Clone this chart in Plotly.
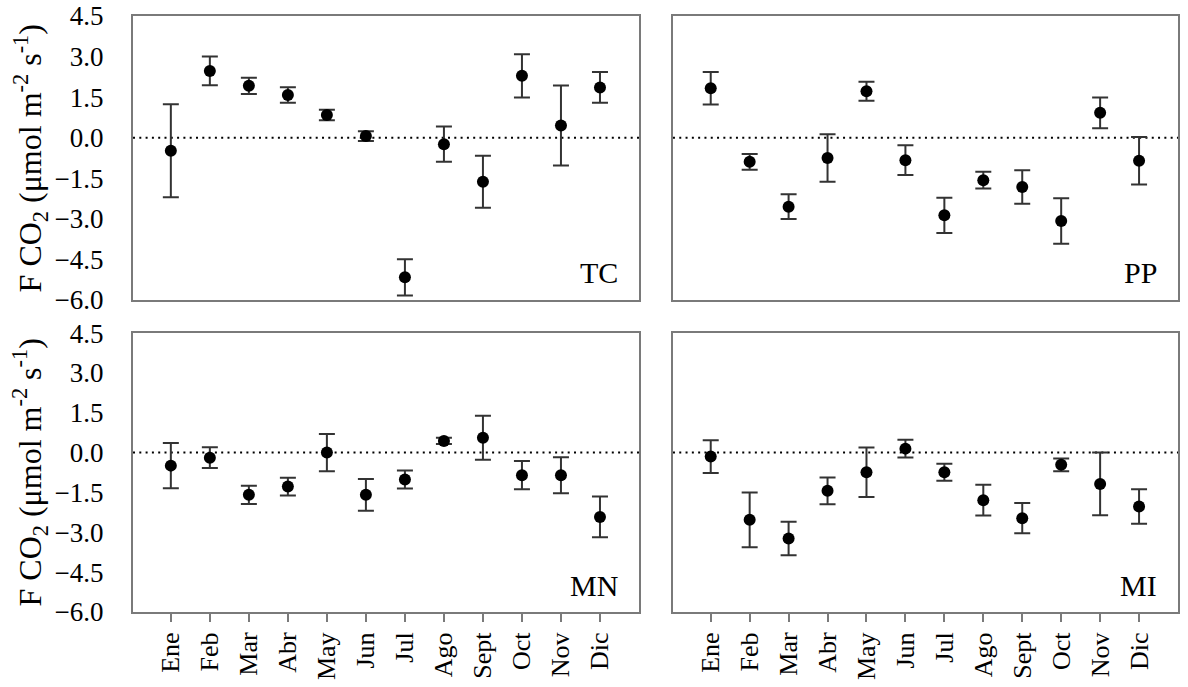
import plotly.graph_objects as go

months = ["Ene", "Feb", "Mar", "Abr", "May", "Jun", "Jul", "Ago", "Sept", "Oct", "Nov", "Dic"]

tc_vals = [-0.48, 2.47, 1.92, 1.58, 0.84, 0.06, -5.16, -0.24, -1.63, 2.29, 0.45, 1.86]
tc_err = [1.72, 0.53, 0.30, 0.29, 0.19, 0.18, 0.67, 0.65, 0.96, 0.80, 1.48, 0.57]

pp_vals = [1.83, -0.89, -2.55, -0.75, 1.72, -0.83, -2.87, -1.57, -1.82, -3.08, 0.92, -0.85]
pp_err = [0.60, 0.29, 0.46, 0.88, 0.35, 0.55, 0.65, 0.31, 0.62, 0.84, 0.57, 0.88]

mn_vals = [-0.49, -0.19, -1.59, -1.28, 0.0, -1.59, -1.01, 0.44, 0.56, -0.85, -0.85, -2.42]
mn_err = [0.85, 0.39, 0.34, 0.33, 0.70, 0.60, 0.34, 0.12, 0.83, 0.53, 0.68, 0.77]

mi_vals = [-0.15, -2.53, -3.23, -1.44, -0.74, 0.15, -0.74, -1.79, -2.47, -0.46, -1.18, -2.03]
mi_err = [0.62, 1.03, 0.63, 0.50, 0.93, 0.33, 0.32, 0.58, 0.57, 0.24, 1.18, 0.65]

y_ticks = [-6.0, -4.5, -3.0, -1.5, 0.0, 1.5, 3.0, 4.5]
panel_names = ["TC", "PP", "MN", "MI"]

FONT = "Liberation Serif"
FRAME = "#7a7a7a"

fig = go.Figure()

panels = [
    (tc_vals, tc_err, "x", "y"),
    (pp_vals, pp_err, "x2", "y2"),
    (mn_vals, mn_err, "x3", "y3"),
    (mi_vals, mi_err, "x4", "y4"),
]
for vals, err, xa, ya in panels:
    fig.add_trace(go.Scatter(
        x=months, y=vals, mode="markers", xaxis=xa, yaxis=ya,
        marker=dict(color="black", size=12),
        error_y=dict(type="data", array=err, visible=True,
                     color="#333333", thickness=2, width=8),
        showlegend=False, hoverinfo="x+y",
    ))

xdom_l = [0.0, 0.4842]
xdom_r = [0.5167, 1.0]
ydom_t = [0.5235, 1.0]
ydom_b = [0.0, 0.468]

def xaxis(dom, anchor, labels):
    d = dict(domain=dom, anchor=anchor, type="category", categoryorder="array",
             categoryarray=months, range=[-0.97, 12.0], showgrid=False, zeroline=False,
             showline=True, mirror=True, linecolor=FRAME, linewidth=2, automargin=False,
             tickfont=dict(family=FONT, size=26, color="black"))
    if labels:
        d.update(ticks="outside", ticklen=8, tickwidth=1.5, tickcolor=FRAME,
                 tickangle=-90, showticklabels=True)
    else:
        d.update(ticks="", showticklabels=False)
    return d

def yaxis(dom, anchor, labels):
    d = dict(domain=dom, anchor=anchor, range=[-6.0, 4.5], tickvals=y_ticks,
             tickformat=".1f", showgrid=False, zeroline=False, automargin=False,
             showline=True, mirror=True, linecolor=FRAME, linewidth=2, ticks="",
             tickfont=dict(family=FONT, size=27, color="black"),
             showticklabels=labels, ticklabelstandoff=22)
    return d

fig.update_layout(
    xaxis=xaxis(xdom_l, "y", False), yaxis=yaxis(ydom_t, "x", True),
    xaxis2=xaxis(xdom_r, "y2", False), yaxis2=yaxis(ydom_t, "x2", False),
    xaxis3=xaxis(xdom_l, "y3", True), yaxis3=yaxis(ydom_b, "x3", True),
    xaxis4=xaxis(xdom_r, "y4", True), yaxis4=yaxis(ydom_b, "x4", False),
)

axes_pairs = [("x", "y"), ("x2", "y2"), ("x3", "y3"), ("x4", "y4")]
for (xa, ya), name in zip(axes_pairs, panel_names):
    fig.add_shape(type="line", xref=f"{xa} domain", yref=ya, x0=0, x1=1, y0=0, y1=0,
                  line=dict(color="black", width=2, dash="2px,4.3px"), layer="below")
    fig.add_annotation(text=name, xref=f"{xa} domain", yref=f"{ya} domain",
                       x=0.962, y=0.03, xanchor="right", yanchor="bottom",
                       showarrow=False, font=dict(family=FONT, size=30, color="black"))

ytitle = "F CO<sub>2</sub> (μmol m<sup>-2</sup> s<sup>-1</sup>)"
for yc in [0.761, 0.234]:
    fig.add_annotation(text=ytitle, xref="paper", yref="paper", x=-0.0986, y=yc,
                       xanchor="center", yanchor="middle", textangle=-90, showarrow=False,
                       font=dict(family=FONT, size=32, color="black"))

fig.update_layout(
    width=1188, height=687,
    margin=dict(l=133, r=10, t=16, b=75, autoexpand=False),
    paper_bgcolor="white", plot_bgcolor="white",
    font=dict(family=FONT, color="black"),
)

fig.write_html("out.html", config={"displayModeBar": False},
               post_script="document.body.style.margin='0';document.body.style.overflow='hidden';")
